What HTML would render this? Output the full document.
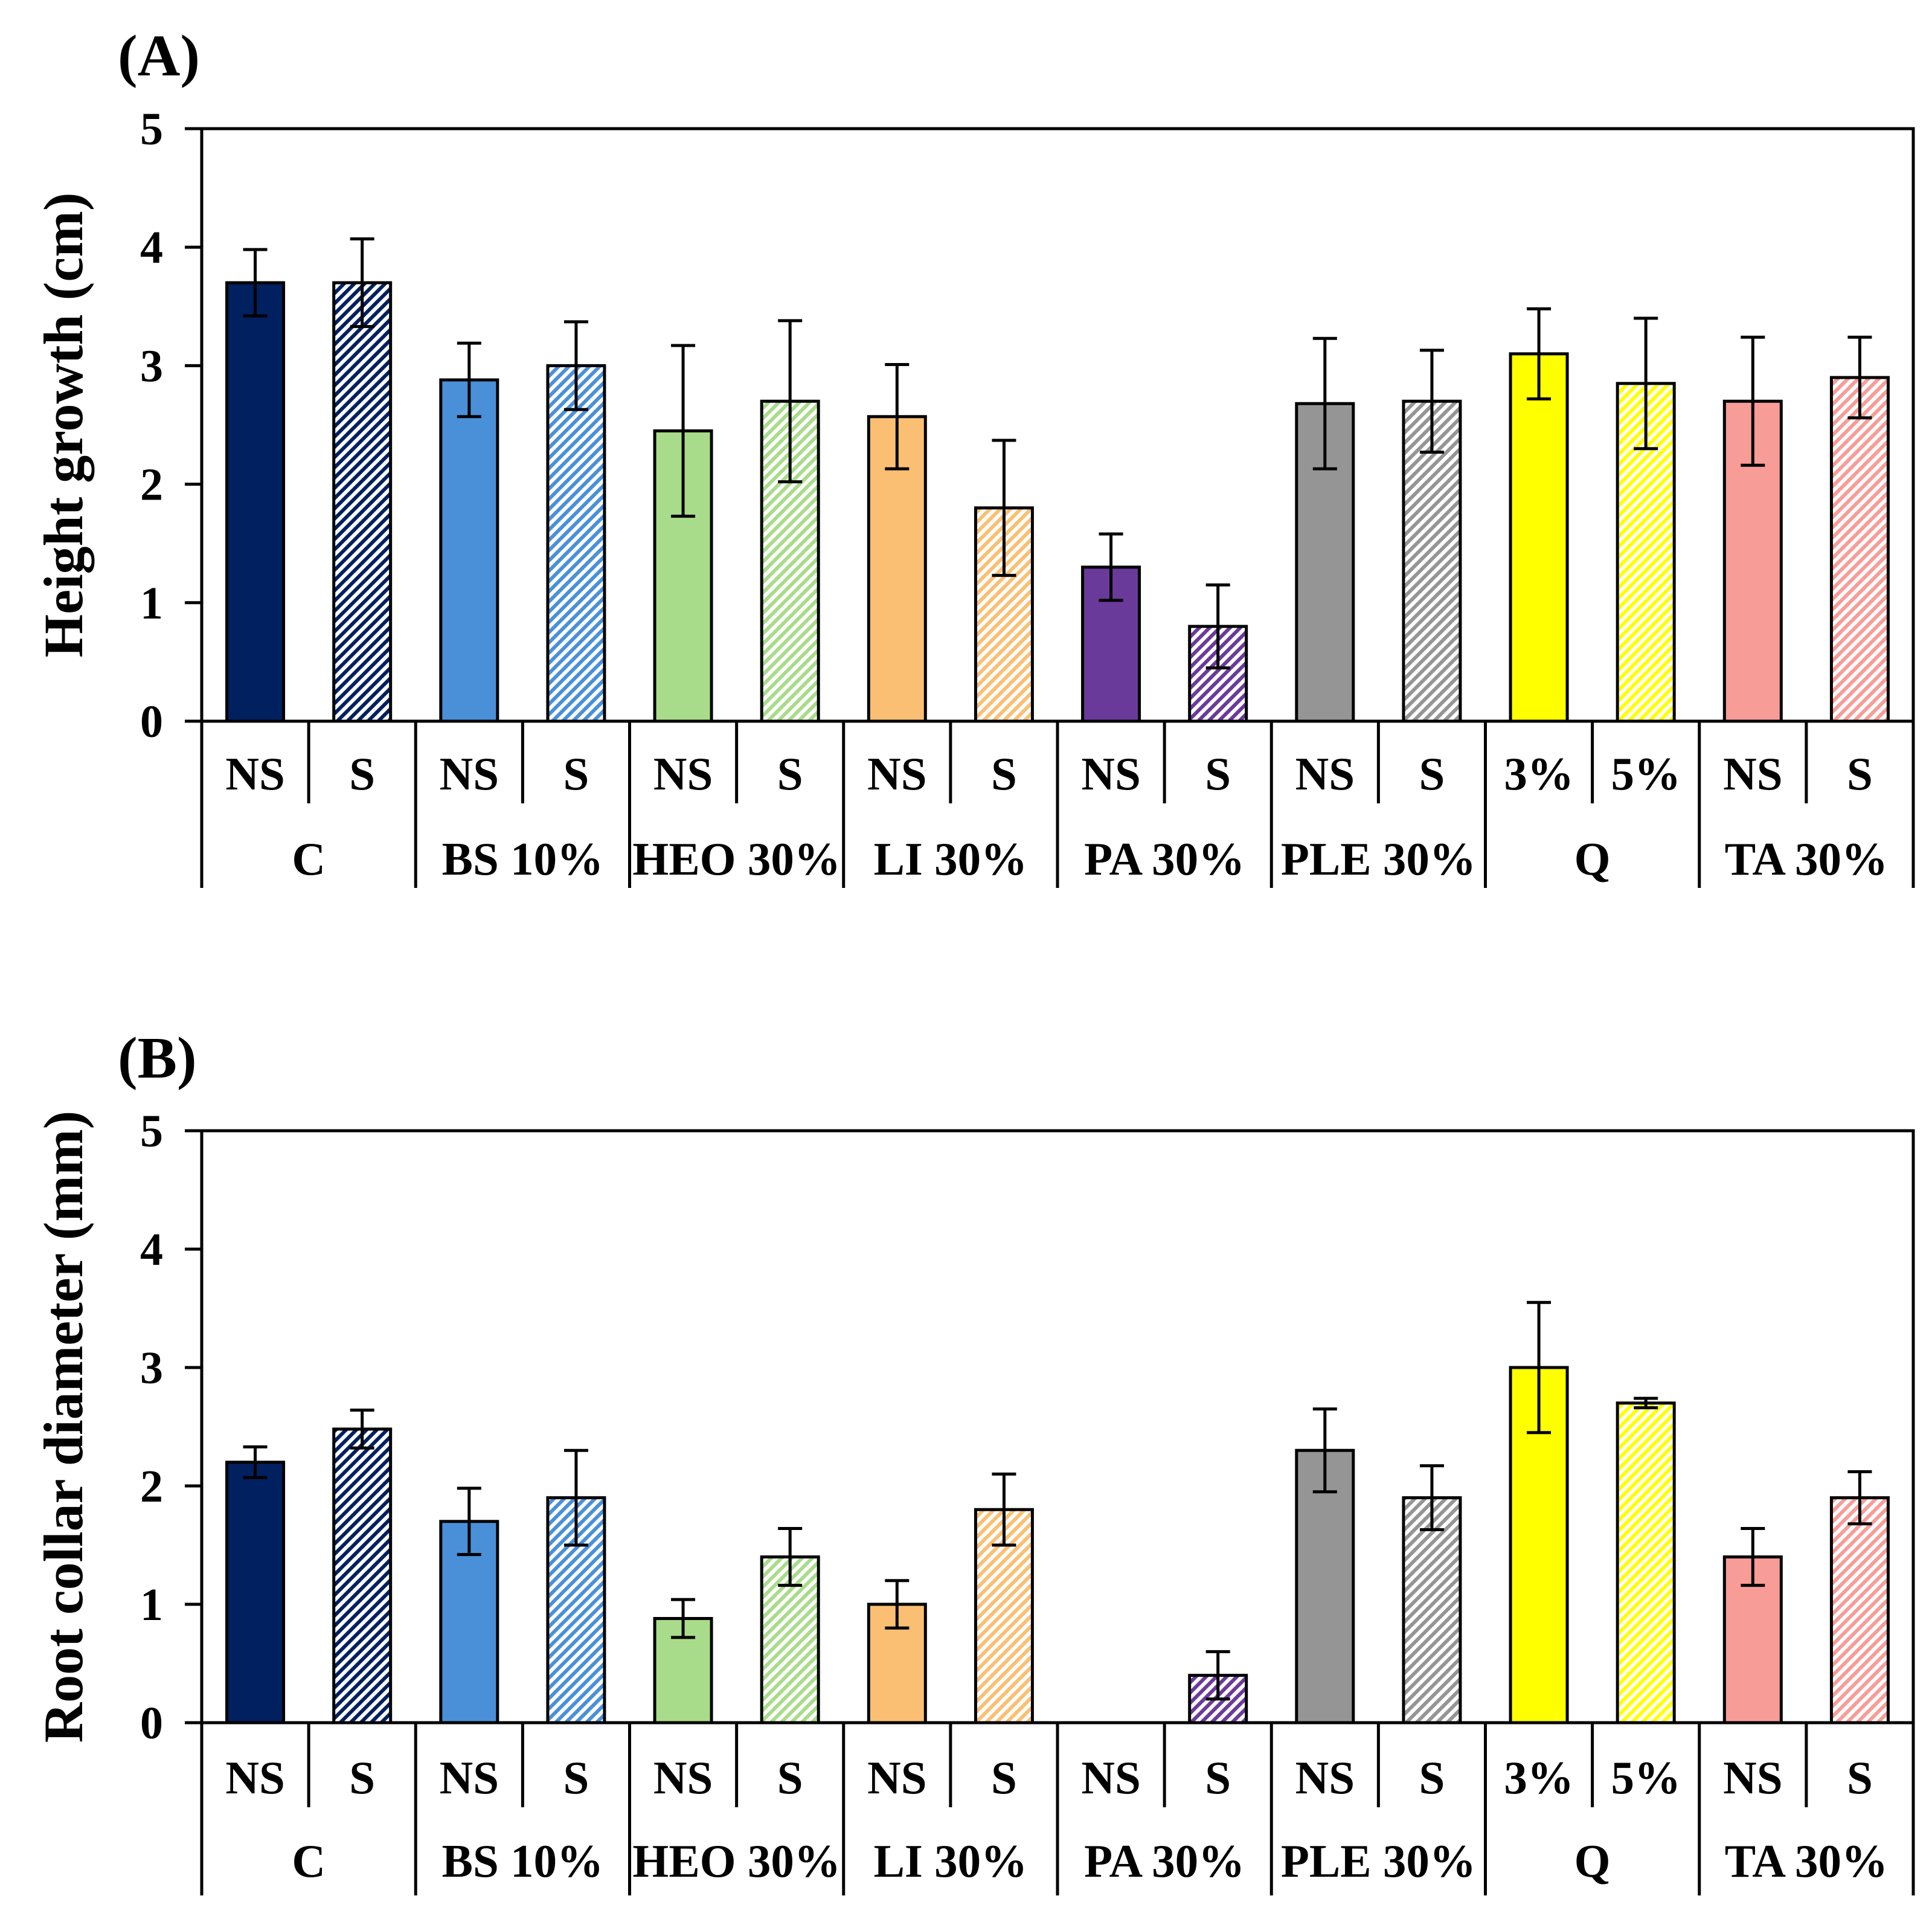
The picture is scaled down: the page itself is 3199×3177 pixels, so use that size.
<!DOCTYPE html>
<html><head><meta charset="utf-8"><style>
html,body{margin:0;padding:0;background:#fff;}
svg{display:block;font-family:"Liberation Serif",serif;font-weight:bold;}
</style></head><body>
<svg id="chart" width="3199" height="3177" viewBox="0 0 3199 3177" xmlns="http://www.w3.org/2000/svg">
<defs id="defs"></defs>
</svg>
<script>
const groups = ["C","BS 10%","HEO 30%","LI 30%","PA 30%","PLE 30%","Q","TA 30%"];
const subLabels = ["NS","S","NS","S","NS","S","NS","S","NS","S","NS","S","3%","5%","NS","S"];
const colors = ["#002060","#4a90d9","#a9dc8a","#fbbf73","#6a3a9a","#959595","#ffff00","#f89c98"];
const heightVals = [3.7,3.7,2.88,3.0,2.45,2.7,2.57,1.8,1.3,0.8,2.68,2.7,3.1,2.85,2.7,2.9];
const heightErr = [0.28,0.37,0.31,0.37,0.72,0.68,0.44,0.57,0.28,0.35,0.55,0.43,0.38,0.55,0.54,0.34];
const rootVals = [2.2,2.48,1.7,1.9,0.88,1.4,1.0,1.8,0,0.4,2.3,1.9,3.0,2.7,1.4,1.9];
const rootErr = [0.13,0.16,0.28,0.4,0.16,0.24,0.2,0.3,0,0.2,0.35,0.27,0.55,0.04,0.24,0.22];
const yTicks = [0,1,2,3,4,5];

const NS="http://www.w3.org/2000/svg";
const svg=document.getElementById('chart');
const defs=document.getElementById('defs');
function mk(t,a,p){const e=document.createElementNS(NS,t);for(const k in a)e.setAttribute(k,a[k]);(p||svg).appendChild(e);return e;}
colors.forEach((c,i)=>{
  const p=mk('pattern',{id:'h'+i,patternUnits:'userSpaceOnUse',width:12,height:12,patternTransform:'rotate(45)'},defs);
  mk('rect',{x:0,y:0,width:12,height:12,fill:'#fff'},p);
  mk('rect',{x:0,y:0,width:6,height:12,fill:c},p);
});
const X0=334,X1=3168,slot=(X1-X0)/16,bw=94;
function xc(i){return X0+slot*(i+0.5);}
function panel(id,top,bottom,vals,errs,title,letter,subY,grpY,lineEnd){
  const g=mk('g',{});
  
  
  const ys=v=>bottom-(bottom-top)*v/5;
  const L=mk('text',{x:195,y:top-88,'font-size':98},g);L.textContent=letter;
  
  mk('rect',{x:X0,y:top,width:X1-X0,height:bottom-top,fill:'none',stroke:'#000','stroke-width':5},g);
  yTicks.forEach(t=>{
    mk('line',{x1:306,x2:X0,y1:ys(t),y2:ys(t),stroke:'#000','stroke-width':5},g);
    const tx=mk('text',{x:270,y:ys(t)+26,'font-size':76,'text-anchor':'end'},g);tx.textContent=t;
    
  });
  const yt=mk('text',{transform:`translate(136,${(top+bottom)/2}) rotate(-90)`,'font-size':92,'text-anchor':'middle'},g);
  yt.textContent=title;
  vals.forEach((v,i)=>{
    const gi=Math.floor(i/2),hatch=i%2===1;
    const r=mk('rect',{x:xc(i)-bw/2,y:ys(v),width:bw,height:bottom-ys(v),fill:hatch?`url(#h${gi})`:colors[gi],stroke:v>0?'#000':'none','stroke-width':5},g);
    
    
    if(errs[i]>0){
      const e=mk('g',{stroke:'#000','stroke-width':5},g);
      
      mk('line',{x1:xc(i),x2:xc(i),y1:ys(v-errs[i]),y2:ys(v+errs[i])},e);
      mk('line',{x1:xc(i)-20,x2:xc(i)+20,y1:ys(v-errs[i]),y2:ys(v-errs[i])},e);
      mk('line',{x1:xc(i)-20,x2:xc(i)+20,y1:ys(v+errs[i]),y2:ys(v+errs[i])},e);
    }
    const sl=mk('text',{x:xc(i),y:subY+27,'font-size':77,'text-anchor':'middle'},g);sl.textContent=subLabels[i];
    
  });
  for(let i=0;i<=16;i++){
    const x=X0+slot*i;
    mk('line',{x1:x,x2:x,y1:bottom,y2:(i%2===0)?lineEnd:subY+50,stroke:'#000','stroke-width':5},g);
  }
  groups.forEach((gname,gi)=>{
    const t=mk('text',{x:X0+slot*(2*gi+1),y:grpY+27,'font-size':77,'text-anchor':'middle'},g);t.textContent=gname;
    
  });
}
panel('a',213,1194,heightVals,heightErr,'Height growth (cm)','(A)',1280,1421,1470);
panel('b',1872,2852,rootVals,rootErr,'Root collar diameter (mm)','(B)',2942,3080,3138);
</script>
</body></html>
